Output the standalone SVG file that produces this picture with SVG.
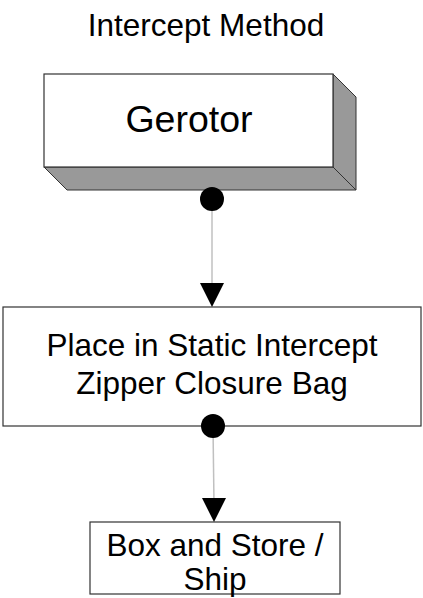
<svg xmlns="http://www.w3.org/2000/svg" width="423" height="598" viewBox="0 0 423 598">
<style>
text{font-family:"Liberation Sans",Arial,sans-serif;fill:#000;text-anchor:middle}
.box{fill:#fff;stroke:#333;stroke-width:1.2}
.side{fill:#999;stroke:#333;stroke-width:1}
.conn{stroke:#c0c0c0;stroke-width:1.5;fill:none}
.dot{fill:#000}
.head{fill:#000}
</style>
<rect width="423" height="598" fill="#fff"/>
<text x="206" y="36" font-size="31.5">Intercept Method</text>
<g id="gerotor">
<polygon class="side" points="333,74 356,97 356,190 333,167"/>
<polygon class="side" points="44,167 333,167 356,190 67,190"/>
<rect class="box" x="44" y="74" width="289" height="93"/>
<text x="189" y="132" font-size="37.5">Gerotor</text>
</g>
<g id="place">
<rect class="box" x="3" y="307" width="418" height="119"/>
<text x="212" y="356" font-size="31.5">Place in Static Intercept</text>
<text x="212" y="394" font-size="31.5">Zipper Closure Bag</text>
</g>
<g id="boxstore">
<rect class="box" x="90" y="522" width="250" height="72"/>
<text x="215" y="556" font-size="31.5">Box and Store /</text>
<text x="215" y="590" font-size="31.5">Ship</text>
</g>
<g id="connectors">
<line class="conn" x1="212" y1="199" x2="212" y2="290"/>
<circle class="dot" cx="212" cy="199" r="12"/>
<polygon class="head" points="200,283 224,283 212,307"/>
<line class="conn" x1="213" y1="426" x2="214" y2="505"/>
<circle class="dot" cx="213" cy="426" r="12"/>
<polygon class="head" points="202,498 226,498 214,522"/>
</g>
</svg>
